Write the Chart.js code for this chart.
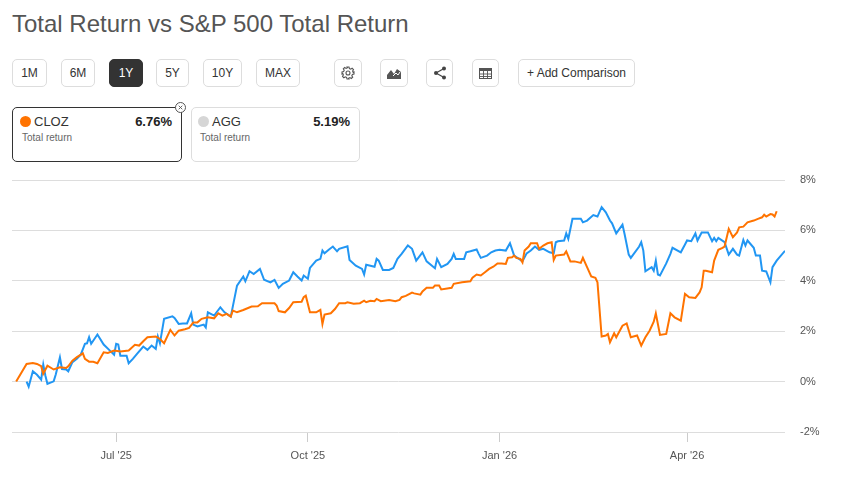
<!DOCTYPE html>
<html>
<head>
<meta charset="utf-8">
<script src="https://cdn.jsdelivr.net/npm/chart.js@4"></script>
<style>
    body { margin: 0; width: 841px; height: 490px; position: relative; overflow: hidden; background: #fff;
           font-family: "Liberation Sans", Arial, sans-serif; color: #333; }
    h1 { position: absolute; left: 12px; top: 10px; margin: 0; font-size: 24px; font-weight: normal;
         line-height: normal; color: #555; white-space: nowrap; }
    .btn { position: absolute; top: 59px; height: 28px; box-sizing: border-box; border: 1px solid #ddd;
           border-radius: 5px; background: #fff; font-size: 12px; color: #333;
           display: flex; align-items: center; justify-content: center; }
    .btn.active { background: #333; border-color: #333; color: #fff; }
    .card { position: absolute; top: 107px; height: 55px; box-sizing: border-box; border: 1px solid #ddd;
            border-radius: 5px; background: #fff; }
    .card.selected { border-color: #333; }
    .dot { position: absolute; top: 8px; width: 11px; height: 11px; border-radius: 50%; }
    .name { position: absolute; top: 6px; font-size: 13px; color: #333; }
    .pct { position: absolute; top: 6px; right: 9px; font-size: 13px; font-weight: bold; color: #222; }
    .sub { position: absolute; top: 24px; font-size: 10px; color: #666; }
    .close { position: absolute; left: 175px; top: 102px; width: 11px; height: 11px; box-sizing: border-box;
             border: 1px solid #555; border-radius: 50%; background: #fff; }
    #chart-wrap { position: absolute; left: 0; top: 170px; width: 841px; height: 300px; }
</style>
</head>
<body>
<h1>Total Return vs S&amp;P 500 Total Return</h1>

<div class="btn" style="left:12px;width:35px">1M</div>
<div class="btn" style="left:61px;width:34px">6M</div>
<div class="btn active" style="left:109px;width:34px">1Y</div>
<div class="btn" style="left:156px;width:33px">5Y</div>
<div class="btn" style="left:203px;width:39px">10Y</div>
<div class="btn" style="left:256px;width:44px">MAX</div>
<div class="btn" style="left:334px;width:28px">
    <svg width="14" height="14" viewBox="0 0 14 14" fill="none" stroke="#555" stroke-width="1.1">
        <circle cx="7" cy="7" r="2"/>
        <path d="M6 1h2l.4 1.6 1.3.6 1.4-.9 1.4 1.4-.9 1.4.6 1.3L13 6v2l-1.6.4-.6 1.3.9 1.4-1.4 1.4-1.4-.9-1.3.6L8 13H6l-.4-1.6-1.3-.6-1.4.9-1.4-1.4.9-1.4-.6-1.3L1 8V6l1.6-.4.6-1.3-.9-1.4 1.4-1.4 1.4.9 1.3-.6z"/>
    </svg>
</div>
<div class="btn" style="left:380px;width:28px">
    <svg width="14" height="12" viewBox="0 0 14 12">
        <polygon points="0,12 0,8 4,3 7,7 10,2 14,5 14,12" fill="#555"/>
        <polyline points="6,9 9,6 11,8 13,5" fill="none" stroke="#fff" stroke-width="1"/>
    </svg>
</div>
<div class="btn" style="left:426px;width:27px">
    <svg width="14" height="14" viewBox="0 0 14 14">
        <line x1="11" y1="2.5" x2="3" y2="7" stroke="#444" stroke-width="1.2"/>
        <line x1="11" y1="11.5" x2="3" y2="7" stroke="#444" stroke-width="1.2"/>
        <circle cx="11" cy="2.5" r="2" fill="#444"/>
        <circle cx="3" cy="7" r="2" fill="#444"/>
        <circle cx="11" cy="11.5" r="2" fill="#444"/>
    </svg>
</div>
<div class="btn" style="left:472px;width:27px">
    <svg width="13" height="11" viewBox="0 0 13 11">
        <rect x="0.5" y="0.5" width="12" height="10" fill="none" stroke="#555"/>
        <rect x="0.5" y="0.5" width="12" height="2.5" fill="#555"/>
        <path d="M4.5 3v8M8.5 3v8M0.5 6h12M0.5 8.5h12" stroke="#555" stroke-width="0.9"/>
    </svg>
</div>
<div class="btn" style="left:518px;width:117px">+ Add Comparison</div>

<div class="card selected" style="left:12px;width:170px">
    <div class="dot" style="left:7px;background:#ff7300"></div>
    <div class="name" style="left:21px">CLOZ</div>
    <div class="pct">6.76%</div>
    <div class="sub" style="left:9px">Total return</div>
</div>
<div class="close">
    <svg width="9" height="9" viewBox="0 0 9 9" style="position:absolute;left:0;top:0">
        <path d="M2.7 2.7l3.6 3.6M6.3 2.7l-3.6 3.6" stroke="#555" stroke-width="0.9"/>
    </svg>
</div>
<div class="card" style="left:191px;width:169px">
    <div class="dot" style="left:6px;background:#d6d6d6"></div>
    <div class="name" style="left:20px">AGG</div>
    <div class="pct">5.19%</div>
    <div class="sub" style="left:8px">Total return</div>
</div>

<div id="chart-wrap"><canvas id="returnChart"></canvas></div>

<script>
    // day numbers count from BASE_DATE (negative = before it)
    const BASE_DATE = '2025-07-01';
    const rangeDates = ['2025-05-12', '2026-05-18'];
    const tickDates = ['2025-07-01', '2025-10-01', '2026-01-01', '2026-04-01'];
    const tickLabels = ["Jul '25", "Oct '25", "Jan '26", "Apr '26"];
    const yMin = -2;
    const yMax = 8;
    const yStep = 2;

    const clozDays = [-48, -43, -40, -38, -36, -35, -33, -30, -27, -24, -23, -21, -19, -16, -15, -13, -11, -9, -6, -4,
        -1, 2, 6, 9, 11, 13, 15, 19, 21, 23, 26, 28, 30, 33, 35, 37, 39, 41, 44, 47,
        49, 51, 53, 55, 56, 58, 61, 65, 68, 70, 76, 77, 78, 81, 83, 85, 89, 90, 91, 93,
        96, 98, 99, 100, 103, 105, 107, 110, 111, 114, 117, 119, 120, 122, 124, 125, 127, 131, 134, 136,
        137, 139, 142, 143, 146, 147, 149, 152, 153, 155, 156, 161, 162, 166, 170, 171, 173, 175, 177, 179,
        181, 183, 185, 187, 188, 190, 191, 192, 194, 195, 196, 198, 199, 202, 203, 205, 207, 209, 210, 211,
        215, 216, 218, 220, 223, 224, 226, 228, 230, 231, 233, 235, 236, 237, 239, 240, 243, 245, 247, 250,
        252, 254, 256, 258, 259, 261, 264, 266, 268, 271, 273, 275, 278, 280, 281, 282, 283, 286, 287, 289,
        291, 292, 294, 296, 298, 299, 301, 303, 306, 308, 310, 311, 312, 314, 315, 316, 317];
    const clozReturn = [0.00, 0.70, 0.74, 0.70, 0.61, 0.31, 0.63, 0.48, 0.57, 0.54, 0.61, 0.83, 0.96, 1.12, 0.90, 0.79, 0.79, 0.73, 1.16, 1.14,
        1.23, 1.19, 1.23, 1.46, 1.43, 1.60, 1.76, 1.79, 1.69, 1.52, 2.05, 1.83, 2.02, 2.08, 2.13, 2.35, 2.35, 2.49, 2.55, 2.51,
        2.71, 2.62, 2.69, 2.58, 2.82, 2.75, 2.84, 2.98, 2.99, 3.11, 3.11, 3.02, 2.80, 2.75, 2.92, 3.15, 3.17, 3.35, 3.41, 2.75,
        2.75, 2.85, 2.29, 2.66, 2.71, 2.88, 3.11, 3.11, 3.15, 3.09, 3.11, 3.21, 3.15, 3.21, 3.19, 3.28, 3.19, 3.24, 3.19, 3.24,
        3.35, 3.40, 3.53, 3.50, 3.45, 3.58, 3.72, 3.72, 3.81, 3.81, 3.66, 3.72, 3.88, 3.94, 3.98, 4.12, 4.25, 4.21, 4.34, 4.47,
        4.56, 4.69, 4.69, 4.67, 4.91, 4.93, 5.00, 4.91, 4.87, 4.73, 5.20, 5.36, 5.49, 5.49, 5.27, 5.40, 5.49, 5.53, 4.83, 5.00,
        5.04, 5.17, 4.77, 4.77, 4.71, 4.91, 4.54, 4.17, 4.12, 3.94, 1.79, 1.83, 1.89, 1.56, 1.92, 1.76, 2.22, 2.31, 1.76, 1.83,
        1.43, 1.76, 2.02, 2.38, 2.71, 1.85, 1.89, 2.71, 2.55, 2.42, 3.48, 3.35, 3.32, 3.54, 3.74, 4.40, 4.40, 4.34, 4.80, 5.23,
        5.31, 5.36, 6.06, 5.73, 5.92, 6.12, 6.15, 6.32, 6.39, 6.46, 6.52, 6.62, 6.55, 6.65, 6.63, 6.55, 6.76];

    const aggDays = [-43, -42, -40, -38, -36, -35, -34, -33, -30, -29, -27, -26, -24, -23, -21, -19, -17, -15, -14, -13,
        -12, -9, -6, -3, -1, 0, 1, 2, 5, 6, 8, 10, 13, 15, 17, 19, 20, 21, 23, 27,
        28, 30, 32, 34, 36, 37, 39, 42, 43, 44, 47, 50, 52, 55, 58, 61, 62, 64, 66, 69,
        71, 74, 76, 78, 80, 83, 85, 87, 89, 90, 92, 93, 96, 98, 99, 100, 102, 104, 106, 107,
        111, 112, 115, 118, 119, 120, 124, 125, 126, 128, 131, 133, 135, 137, 140, 142, 144, 147, 149, 153,
        154, 156, 159, 161, 162, 163, 167, 168, 170, 173, 174, 175, 178, 180, 182, 184, 187, 189, 191, 195,
        197, 199, 201, 203, 205, 208, 210, 211, 212, 215, 216, 217, 219, 223, 224, 226, 229, 231, 233, 235,
        237, 238, 240, 243, 244, 246, 247, 251, 252, 253, 254, 257, 258, 259, 260, 261, 264, 266, 267, 271,
        273, 274, 276, 278, 279, 281, 284, 286, 287, 288, 289, 292, 294, 296, 298, 299, 301, 302, 303, 306,
        307, 309, 310, 312, 314, 315, 317, 321];
    const aggReturn = [0.00, -0.20, 0.41, 0.27, 0.08, 0.67, 0.24, -0.09, 0.01, 0.28, 0.96, 0.50, 0.48, 0.41, 0.77, 0.90, 1.07, 1.50, 1.52, 1.76,
        1.50, 1.87, 1.47, 1.23, 1.07, 1.50, 1.47, 1.03, 1.03, 0.73, 0.90, 1.10, 1.39, 1.26, 1.43, 1.30, 1.79, 1.52, 2.49, 2.59,
        2.53, 2.29, 2.31, 2.31, 2.71, 2.26, 2.19, 2.26, 2.15, 2.75, 2.62, 2.95, 2.75, 2.58, 3.81, 4.17, 3.98, 4.38, 4.27, 4.47,
        4.04, 3.94, 4.04, 3.72, 3.88, 4.01, 4.34, 4.17, 4.01, 4.21, 4.08, 4.51, 4.80, 4.87, 5.20, 5.09, 5.23, 5.36, 5.17, 5.27,
        5.37, 4.83, 4.60, 4.47, 4.25, 4.64, 4.56, 4.87, 4.80, 4.43, 4.43, 4.51, 4.87, 5.07, 5.40, 5.27, 4.80, 5.13, 4.77, 4.50,
        4.87, 4.54, 4.67, 4.87, 5.07, 4.87, 4.87, 5.13, 5.17, 5.24, 5.07, 4.91, 5.00, 5.13, 5.20, 5.23, 5.20, 5.49, 5.00, 4.77,
        5.09, 5.20, 5.36, 5.23, 5.27, 5.13, 5.09, 5.53, 5.57, 5.60, 5.88, 5.66, 6.46, 6.46, 6.32, 6.39, 6.61, 6.55, 6.92, 6.72,
        6.39, 6.28, 5.88, 6.23, 5.86, 5.04, 4.91, 5.36, 5.53, 5.20, 4.38, 4.54, 4.40, 4.80, 4.25, 4.21, 4.69, 5.07, 5.31, 5.13,
        5.44, 5.60, 5.57, 5.88, 5.60, 5.92, 5.92, 5.57, 5.70, 5.57, 5.70, 5.53, 5.04, 5.27, 5.04, 5.00, 5.62, 5.40, 5.60, 5.31,
        5.00, 5.00, 4.40, 4.37, 3.94, 4.54, 4.80, 5.19];

    function dayOf(dateStr) {
        return Math.round((Date.parse(dateStr) - Date.parse(BASE_DATE)) / 86400000);
    }

    function toPoints(days, values) {
        return days.map((d, i) => ({ x: d, y: values[i] }));
    }

    document.addEventListener('DOMContentLoaded', function () {
        const ctx = document.getElementById('returnChart').getContext('2d');
        const tickDays = tickDates.map(dayOf);

        Chart.defaults.font.family = '"Liberation Sans", Arial, sans-serif';

        new Chart(ctx, {
            type: 'line',
            data: {
                datasets: [{
                    label: 'CLOZ',
                    data: toPoints(clozDays, clozReturn),
                    borderColor: '#ff7300',
                    borderWidth: 2,
                    pointRadius: 0,
                    tension: 0
                }, {
                    label: 'AGG',
                    data: toPoints(aggDays, aggReturn),
                    borderColor: '#2196f3',
                    borderWidth: 2,
                    pointRadius: 0,
                    tension: 0
                }]
            },
            options: {
                responsive: true,
                maintainAspectRatio: false,
                animation: false,
                layout: { padding: { left: 12, top: 10, right: 0, bottom: 0 } },
                plugins: {
                    legend: { display: false },
                    tooltip: { enabled: false }
                },
                scales: {
                    x: {
                        type: 'linear',
                        min: dayOf(rangeDates[0]),
                        max: dayOf(rangeDates[1]),
                        afterBuildTicks: (scale) => { scale.ticks = tickDays.map(v => ({ value: v })); },
                        afterFit: (scale) => {
                            scale.height = 38;
                            scale.paddingLeft = 0;
                            scale.paddingRight = 0;
                        },
                        grid: { drawOnChartArea: false, drawTicks: true, tickLength: 10, color: '#ccc' },
                        border: { display: false },
                        ticks: {
                            autoSkip: false,
                            maxRotation: 0,
                            padding: 7,
                            color: '#555',
                            font: { size: 11 },
                            callback: (v, i) => tickLabels[i]
                        }
                    },
                    y: {
                        position: 'right',
                        min: yMin,
                        max: yMax,
                        afterFit: (scale) => {
                            scale.width = 56;
                            scale.paddingTop = 0;
                            scale.paddingBottom = 0;
                        },
                        grid: { color: '#ddd', drawTicks: false },
                        border: { display: false },
                        ticks: {
                            stepSize: yStep,
                            padding: 15,
                            color: '#555',
                            font: { size: 11 },
                            callback: (v) => v + '%'
                        }
                    }
                }
            }
        });
    });
</script>
</body>
</html>
